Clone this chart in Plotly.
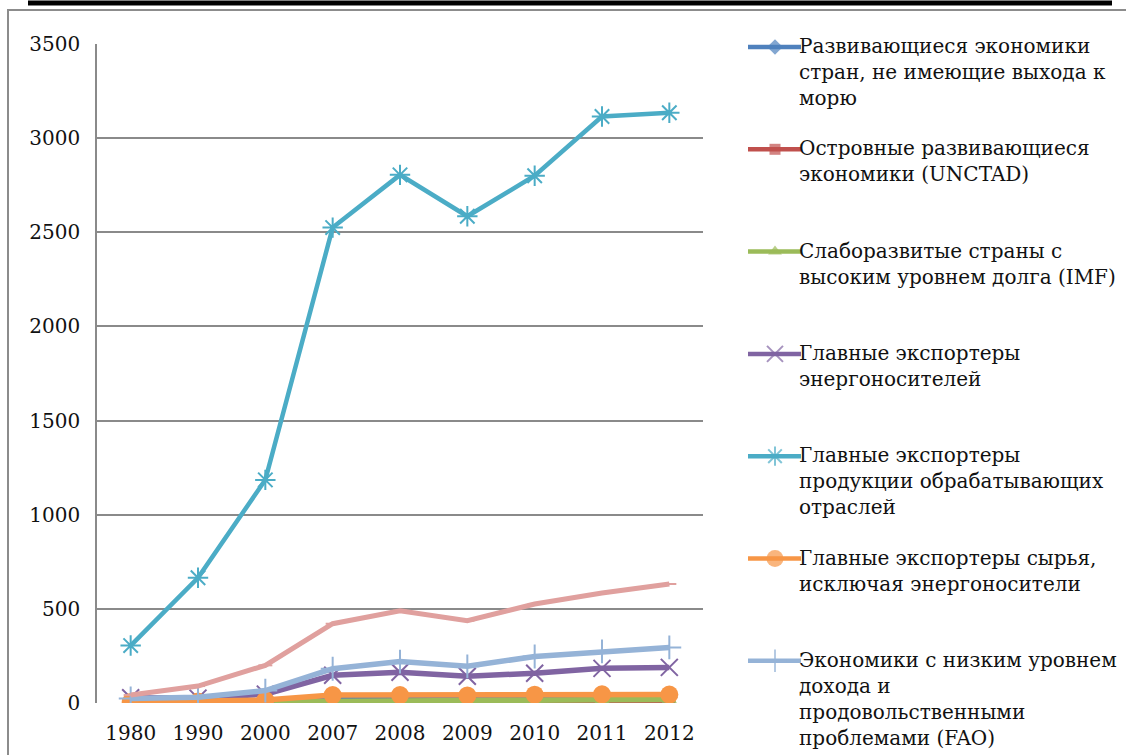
import plotly.graph_objects as go

W, H = 1126, 755

years = ["1980", "1990", "2000", "2007", "2008", "2009", "2010", "2011", "2012"]

landlocked = [4, 5, 9, 24, 27, 24, 27, 30, 31]
island = [3, 4, 6, 10, 11, 10, 11, 12, 13]
hipc = [2, 3, 5, 12, 13, 12, 15, 17, 18]
energy = [28, 26, 47, 147, 163, 142, 158, 184, 189]
manufactures = [305, 665, 1185, 2525, 2805, 2585, 2800, 3115, 3135]
raw = [5, 8, 16, 42, 42, 40, 44, 46, 45]
fao = [24, 30, 66, 182, 220, 195, 247, 274, 295]
other = [42, 90, 200, 421, 490, 437, 526, 584, 632]

names = [
    "Развивающиеся экономики<br>стран, не имеющие выхода к<br>морю",
    "Островные развивающиеся<br>экономики (UNCTAD)",
    "Слаборазвитые страны с<br>высоким уровнем долга (IMF)",
    "Главные экспортеры<br>энергоносителей",
    "Главные экспортеры<br>продукции обрабатывающих<br>отраслей",
    "Главные экспортеры сырья,<br>исключая энергоносители",
    "Экономики с низким уровнем<br>дохода и<br>продовольственными<br>проблемами (FAO)",
]

series = [landlocked, island, hipc, energy, manufactures, raw, fao, other]
colors = ["#4F81BD", "#C0504D", "#9BBB59", "#8064A2", "#4BACC6", "#F79646", "#95B3D7", "#E0A09E"]
symbols = ["diamond", "square", "triangle-up", "x-thin-open", "asterisk-open",
           "circle", "cross-thin-open", "line-ew-open"]
msizes = [13, 12, 13, 17, 17, 18, 17, 10]
widths = [5.5, 5.5, 5.5, 5.5, 4.5, 5.5, 5.5, 5]

FONT = "DejaVu Serif"

fig = go.Figure()
for vals, col, sym, ms, lw in zip(series, colors, symbols, msizes, widths):
    open_sym = sym.endswith("open")
    fig.add_trace(go.Scatter(
        x=years, y=vals, mode="lines+markers",
        line=dict(color=col, width=lw),
        marker=dict(symbol=sym, size=ms, color=col,
                    line=dict(color=col, width=2 if open_sym else 0)),
        showlegend=False, hoverinfo="x+y",
    ))

# custom legend (Excel-style fixed slots)
leg_x0, leg_x1, leg_xm, txt_x = 748, 801, 775, 797
slot0, slot_h = 47, 102.3
for i, nm in enumerate(names):
    yc = slot0 + i * slot_h
    sym = symbols[i]
    open_sym = sym.endswith("open")
    fig.add_trace(go.Scatter(
        x=[leg_x0, leg_xm, leg_x1], y=[yc, yc, yc], xaxis="x2", yaxis="y2",
        mode="lines+markers",
        line=dict(color=colors[i], width=4.5),
        marker=dict(symbol=sym, size=[0, msizes[i] - 1, 0], color=colors[i],
                    line=dict(color=colors[i], width=2 if open_sym else 0)),
        showlegend=False, hoverinfo="skip",
    ))
    fig.add_annotation(
        xref="x2", yref="y2", x=txt_x, y=yc - 15, xanchor="left", yanchor="top",
        text=nm, showarrow=False, align="left",
        font=dict(family=FONT, size=20, color="#111111"),
    )

# page decorations: chart border (left/top edges) and document rule
fig.add_shape(type="path", xref="x2", yref="y2",
              path=f"M 8 {H + 20} L 8 10 L {W + 20} 10",
              line=dict(color="#8c8c8c", width=2), layer="below")
fig.add_shape(type="line", xref="x2", yref="y2", x0=28, y0=3, x1=1112, y1=3,
              line=dict(color="#000000", width=5))

fig.update_layout(
    width=W, height=H,
    margin=dict(l=0, r=0, t=0, b=0),
    paper_bgcolor="white", plot_bgcolor="rgba(0,0,0,0)",
    xaxis=dict(type="category", domain=[97 / W, 703 / W], range=[-0.5, 8.5],
               showgrid=False, showline=False, zeroline=False, ticks="",
               tickfont=dict(family=FONT, size=20, color="#111111"),
               ticklabelstandoff=16, automargin=False),
    yaxis=dict(domain=[1 - 703 / H, 1 - 44 / H], range=[0, 3500], dtick=500,
               showgrid=True, gridcolor="#8a8a8a", gridwidth=1.5,
               showline=True, linecolor="#8a8a8a", linewidth=1.5,
               zeroline=False, ticks="",
               tickfont=dict(family=FONT, size=20, color="#111111"),
               ticklabelstandoff=11, automargin=False),
    xaxis2=dict(domain=[0, 1], range=[0, W], visible=False, anchor="y2", fixedrange=True),
    yaxis2=dict(domain=[0, 1], range=[H, 0], visible=False, anchor="x2", fixedrange=True),
)

fig.write_html("out.html", config={"displayModeBar": False},
               post_script="document.body.style.margin='0';document.body.style.overflow='hidden';")
